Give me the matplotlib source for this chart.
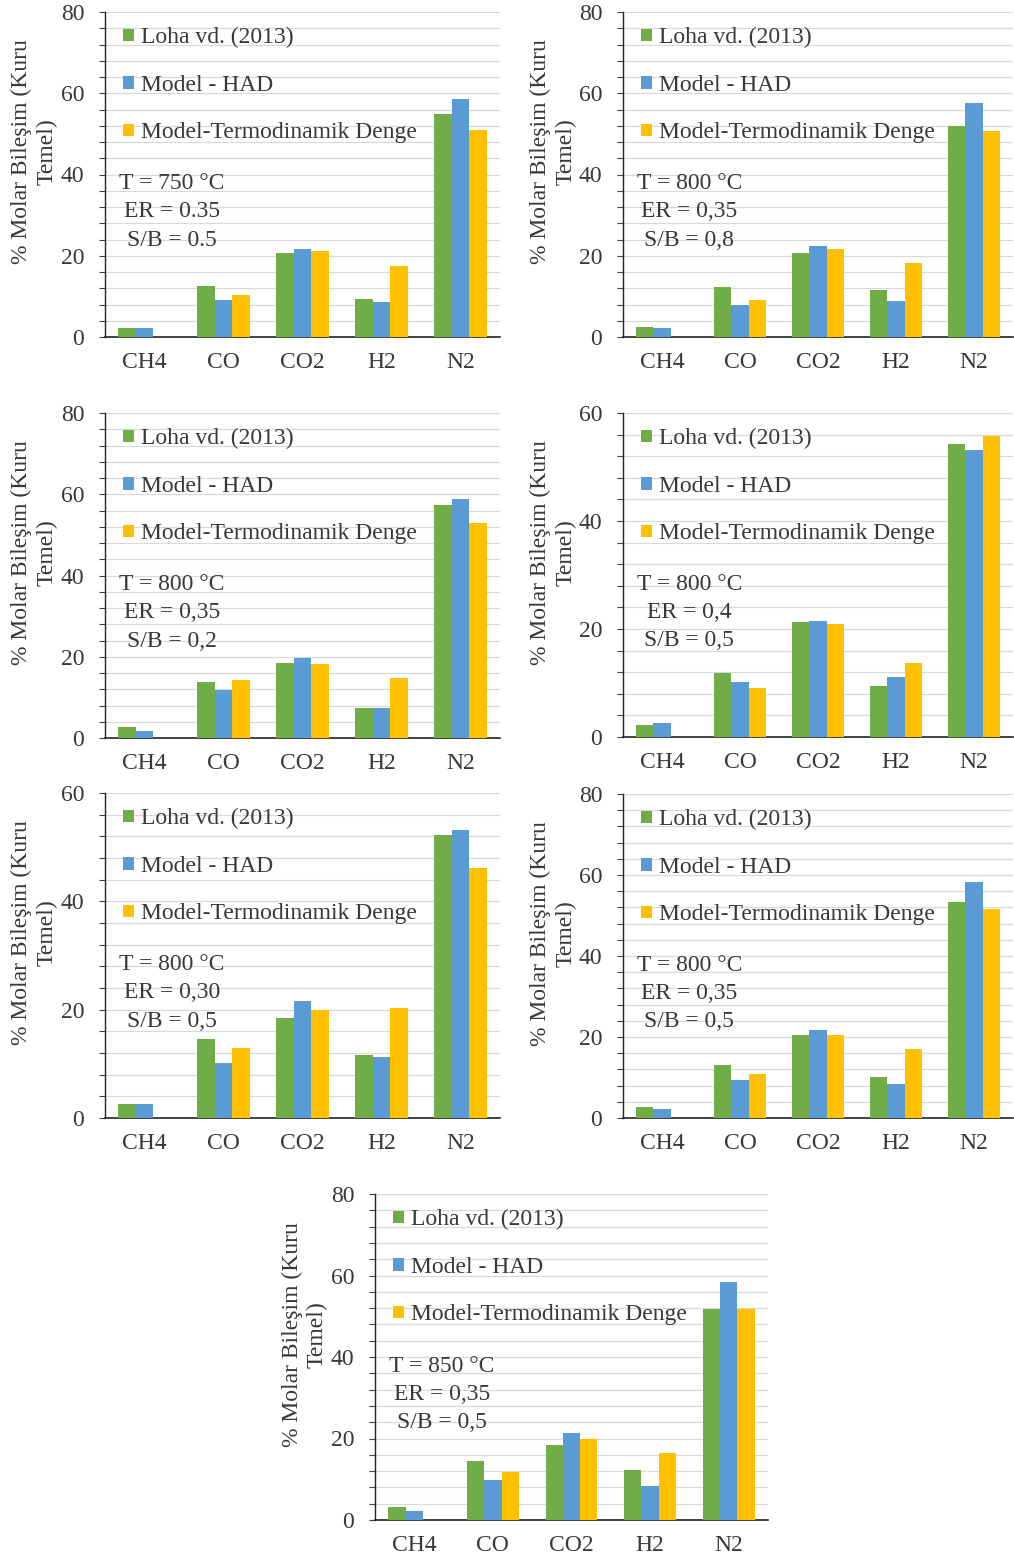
import numpy as np
import matplotlib
matplotlib.use("Agg")
import matplotlib.pyplot as plt
from matplotlib.ticker import MultipleLocator, FuncFormatter

plt.rcParams['font.family'] = ['Liberation Serif', 'DejaVu Serif']

# data
gases = ['CH4', 'CO', 'CO2', 'H2', 'N2']
series_names = ['Loha vd. (2013)', 'Model - HAD', 'Model-Termodinamik Denge']
colors = ['#70AD47', '#5B9BD5', '#FFC000']

loha = [
    [2.2, 12.6, 20.7, 9.3, 54.8],
    [2.5, 12.4, 20.6, 11.5, 51.9],
    [2.6, 13.7, 18.5, 7.5, 57.3],
    [2.2, 11.9, 21.3, 9.4, 54.3],
    [2.5, 14.5, 18.5, 11.7, 52.2],
    [2.6, 13.2, 20.4, 10.2, 53.4],
    [3.1, 14.6, 18.5, 12.2, 51.7],
]
had = [
    [2.2, 9.0, 21.7, 8.5, 58.6],
    [2.1, 7.9, 22.5, 8.9, 57.6],
    [1.7, 11.8, 19.6, 7.5, 58.8],
    [2.6, 10.1, 21.5, 11.2, 53.2],
    [2.5, 10.2, 21.6, 11.3, 53.2],
    [2.1, 9.3, 21.8, 8.3, 58.2],
    [2.2, 9.8, 21.3, 8.3, 58.4],
]
denge = [
    [0.0, 10.3, 21.2, 17.5, 50.9],
    [0.0, 9.0, 21.6, 18.3, 50.6],
    [0.0, 14.2, 18.1, 14.8, 53.0],
    [0.0, 9.0, 20.9, 13.7, 55.8],
    [0.0, 13.0, 19.9, 20.3, 46.1],
    [0.0, 10.8, 20.4, 17.0, 51.5],
    [0.0, 11.8, 20.0, 16.5, 51.7],
]
conditions = [
    'T = 750 °C\nER = 0.35\nS/B = 0.5',
    'T = 800 °C\nER = 0,35\nS/B = 0,8',
    'T = 800 °C\nER = 0,35\nS/B = 0,2',
    'T = 800 °C\nER = 0,4\nS/B = 0,5',
    'T = 800 °C\nER = 0,30\nS/B = 0,5',
    'T = 800 °C\nER = 0,35\nS/B = 0,5',
    'T = 850 °C\nER = 0,35\nS/B = 0,5',
]
ymax = [80, 80, 80, 60, 60, 80, 80]

# panel boxes in pixels: left, top, right, bottom
W, H = 1014, 1561
boxes = [
    (105, 12, 500, 337),
    (623, 12, 1013, 337),
    (105, 413, 500, 738),
    (623, 413, 1013, 737),
    (105, 793, 500, 1118),
    (623, 794, 1013, 1118),
    (375, 1194, 768, 1520),
]

txt = '#383838'
fs = 17
fig = plt.figure(figsize=(W / 100, H / 100), dpi=100)

x = np.arange(len(gases))
bw = 0.22
for i, (l, t, r, b) in enumerate(boxes):
    ax = fig.add_axes([l / W, 1 - b / H, (r - l) / W, (b - t) / H])
    for k, vals in enumerate([loha[i], had[i], denge[i]]):
        ax.bar(x + (k - 1) * bw, vals, bw, color=colors[k],
               label=series_names[k], zorder=3)
    ax.set_xlim(-0.5, 4.5)
    ax.set_ylim(0, ymax[i])
    ax.yaxis.set_major_locator(MultipleLocator(4))
    ax.yaxis.set_major_formatter(
        FuncFormatter(lambda v, p: '%d' % v if abs(v % 20) < 1e-6 else ''))
    ax.grid(axis='y', color='#D9D9D9', linewidth=0.9, zorder=0)
    ax.set_xticks(x)
    ax.set_xticklabels(gases)
    ax.tick_params(axis='x', length=0, pad=11, labelsize=fs, labelcolor=txt)
    ax.tick_params(axis='y', direction='out', length=4, width=0.8,
                   pad=11, labelsize=fs, labelcolor=txt, color='#404040')
    for s in ['top', 'right']:
        ax.spines[s].set_visible(False)
    ax.spines['left'].set_color('#222222')
    ax.spines['bottom'].set_color('#222222')
    ax.spines['left'].set_linewidth(1.0)
    ax.spines['bottom'].set_linewidth(1.2)

    ax.set_ylabel('% Molar Bileşim (Kuru\nTemel)', fontsize=fs, color=txt,
                  linespacing=1.25)
    ax.yaxis.set_label_coords(-0.12, 0.57)

    ax.legend(loc='upper left', bbox_to_anchor=(0.007, 1.0), frameon=False,
              fontsize=fs, handlelength=0.45, handleheight=0.45,
              handletextpad=0.3, labelspacing=1.12, borderaxespad=0.25,
              labelcolor=txt)

    ax.text(0.17, 0.385, conditions[i], transform=ax.transAxes,
            ha='center', va='center', fontsize=fs, color=txt,
            multialignment='center', linespacing=1.45)

fig.savefig('out.png', dpi=100)
